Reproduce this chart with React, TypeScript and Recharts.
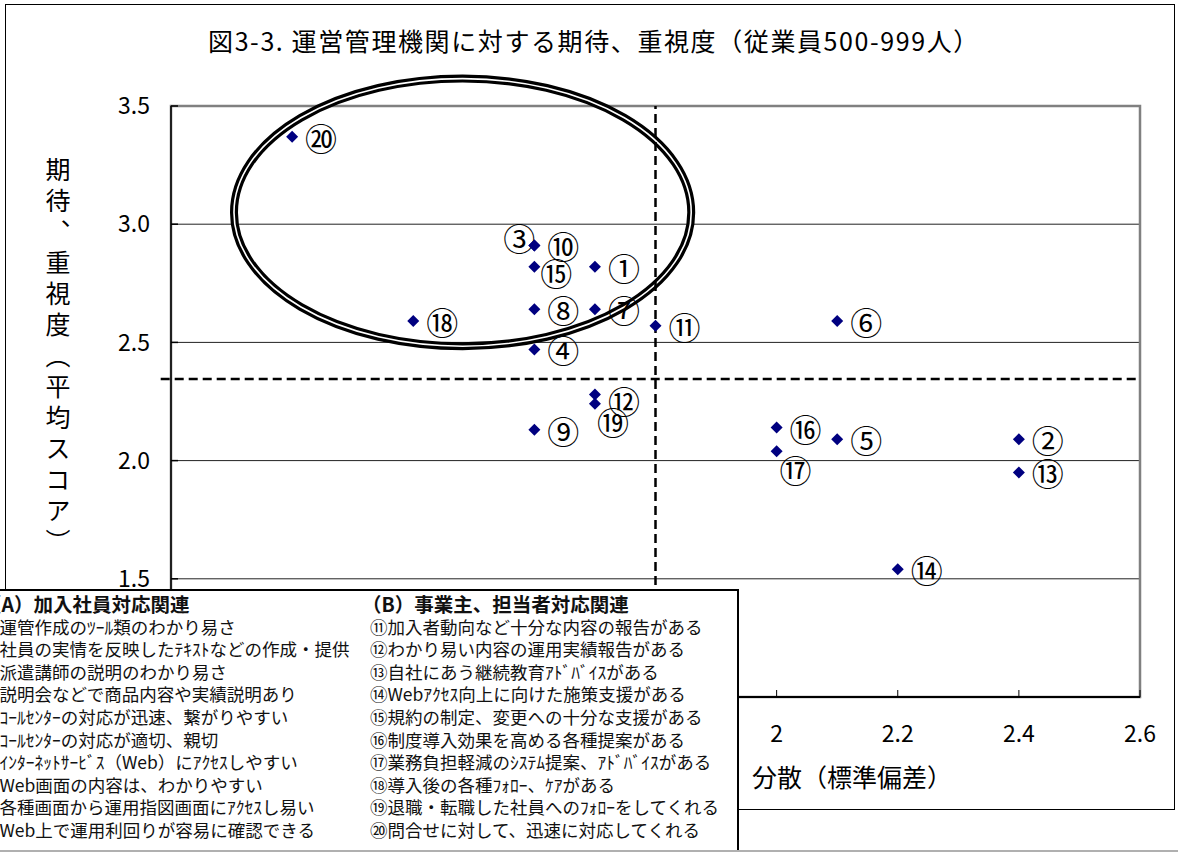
import React from 'react';
import {
  ScatterChart,
  Scatter,
  XAxis,
  YAxis,
  CartesianGrid,
  ReferenceLine,
  ReferenceArea,
} from 'recharts';

// Item numbers (see the legend list below)
const itemLabels = ['①', '②', '③', '④', '⑤', '⑥', '⑦', '⑧', '⑨', '⑩', '⑪', '⑫', '⑬', '⑭', '⑮', '⑯', '⑰', '⑱', '⑲', '⑳'];
// 分散（標準偏差）
const variance = [1.7, 2.4, 1.6, 1.6, 2.1, 2.1, 1.7, 1.6, 1.6, 1.6, 1.8, 1.7, 2.4, 2.2, 1.6, 2.0, 2.0, 1.4, 1.7, 1.2];
// 期待、重視度（平均スコア）
const expectation = [2.82, 2.09, 2.91, 2.47, 2.09, 2.59, 2.64, 2.64, 2.13, 2.91, 2.57, 2.28, 1.95, 1.54, 2.82, 2.14, 2.04, 2.59, 2.24, 3.37];

const xTicks = [1, 1.2, 1.4, 1.6, 1.8, 2, 2.2, 2.4, 2.6];
const yTicks = [1, 1.5, 2, 2.5, 3, 3.5];

// Average lines splitting the quadrants
const avgVariance = 1.8;
const avgExpectation = 2.345;

// Highlighted group, bounds in data units
const focusVariance = [1.104, 1.859];
const focusExpectation = [2.484, 3.616];

const titleText = '図3-3. 運営管理機関に対する期待、重視度（従業員500-999人）';
const yLabelText = '期待、重視度（平均スコア）';
const xLabelText = '分散（標準偏差）';

const groupATitle = '（A）加入社員対応関連';
const groupAItems = [
  '①運管作成のﾂｰﾙ類のわかり易さ',
  '②社員の実情を反映したﾃｷｽﾄなどの作成・提供',
  '③派遣講師の説明のわかり易さ',
  '④説明会などで商品内容や実績説明あり',
  '⑤ｺｰﾙｾﾝﾀｰの対応が迅速、繋がりやすい',
  '⑥ｺｰﾙｾﾝﾀｰの対応が適切、親切',
  '⑦ｲﾝﾀｰﾈｯﾄｻｰﾋﾞｽ（Web）にｱｸｾｽしやすい',
  '⑧Web画面の内容は、わかりやすい',
  '⑨各種画面から運用指図画面にｱｸｾｽし易い',
  '⑩Web上で運用利回りが容易に確認できる',
];
const groupBTitle = '（B）事業主、担当者対応関連';
const groupBItems = [
  '⑪加入者動向など十分な内容の報告がある',
  '⑫わかり易い内容の運用実績報告がある',
  '⑬自社にあう継続教育ｱﾄﾞﾊﾞｲｽがある',
  '⑭Webｱｸｾｽ向上に向けた施策支援がある',
  '⑮規約の制定、変更への十分な支援がある',
  '⑯制度導入効果を高める各種提案がある',
  '⑰業務負担軽減のｼｽﾃﾑ提案、ｱﾄﾞﾊﾞｲｽがある',
  '⑱導入後の各種ﾌｫﾛｰ、ｹｱがある',
  '⑲退職・転職した社員へのﾌｫﾛｰをしてくれる',
  '⑳問合せに対して、迅速に対応してくれる',
];

const points = itemLabels.map((name, i) => ({ name, x: variance[i], y: expectation[i] }));

const FONT = '"Noto Sans CJK JP", "Noto Sans", sans-serif';

// The item key box covers the lower-left corner of the axes,
// so tick labels underneath it are left blank.
const KEY_COVERS_X_BELOW = 2;
const KEY_COVERS_Y_AT_OR_BELOW = 1;

// Label placement next to each marker (pixels); most sit to the right
const labelNudge: Record<string, [number, number]> = {
  '③': [-15, -8],
  '⑮': [22, 5],
  '⑫': [29, 6],
  '⑲': [18, 17],
  '⑰': [19, 18],
};

const DiamondWithLabel = (props: any) => {
  const { cx, cy, payload } = props;
  if (cx == null || cy == null) return null;
  const r = 6;
  const [dx, dy] = labelNudge[payload.name] ?? [29, 0];
  return (
    <g>
      <path
        d={`M${cx},${cy - r}L${cx + r},${cy}L${cx},${cy + r}L${cx - r},${cy}Z`}
        fill="#000080"
      />
      <text
        x={cx + dx}
        y={cy + dy}
        textAnchor="middle"
        dominantBaseline="central"
        fontFamily={FONT}
        fontSize={32}
        fill="#000"
      >
        {payload.name}
      </text>
    </g>
  );
};

const DoubleEllipse = (props: any) => {
  const { x, y, width, height } = props;
  if (x == null || y == null) return null;
  const cx = x + width / 2;
  const cy = y + height / 2;
  return (
    <g>
      <ellipse cx={cx} cy={cy} rx={Math.abs(width) / 2} ry={Math.abs(height) / 2} fill="none" stroke="#000" strokeWidth={8} />
      <ellipse cx={cx} cy={cy} rx={Math.abs(width) / 2} ry={Math.abs(height) / 2} fill="none" stroke="#fff" strokeWidth={1.6} />
    </g>
  );
};

const listLine: React.CSSProperties = {
  height: 22.6,
  lineHeight: '22.6px',
  whiteSpace: 'nowrap',
};

export default function App() {
  return (
    <div style={{ position: 'absolute', left: 0, top: 0, width: 1178, height: 853, overflow: 'hidden', background: '#fff' }}>
      <ScatterChart
        width={1178}
        height={853}
        margin={{ top: 106, right: 38, bottom: 116, left: 111 }}
      >
        <CartesianGrid vertical={false} stroke="#222" strokeWidth={1} />
        <ReferenceArea
          x1={1}
          x2={2.6}
          y1={1}
          y2={3.5}
          fill="none"
          stroke="#808080"
          strokeWidth={2.5}
          ifOverflow="visible"
        />
        <XAxis
          type="number"
          dataKey="x"
          domain={[1, 2.6]}
          ticks={xTicks}
          interval={0}
          height={40}
          tickSize={-7}
          tickMargin={36}
          tickFormatter={(v: number) => (v < KEY_COVERS_X_BELOW ? '' : String(v))}
          tick={{ fontFamily: FONT, fontSize: 23, fill: '#000' }}
          stroke="#000"
          axisLine={{ stroke: '#000', strokeWidth: 2 }}
          tickLine={{ stroke: '#000', strokeWidth: 1 }}
          allowDataOverflow
        />
        <YAxis
          type="number"
          dataKey="y"
          domain={[1, 3.5]}
          ticks={yTicks}
          interval={0}
          width={60}
          tickSize={-7}
          tickMargin={28}
          tickFormatter={(v: number) => (v <= KEY_COVERS_Y_AT_OR_BELOW ? '' : v.toFixed(1))}
          tick={{ fontFamily: FONT, fontSize: 23, fill: '#000' }}
          stroke="#000"
          axisLine={{ stroke: '#000', strokeWidth: 1.5 }}
          tickLine={{ stroke: '#000', strokeWidth: 1.5 }}
          allowDataOverflow
        />
        <ReferenceArea
          x1={focusVariance[0]}
          x2={focusVariance[1]}
          y1={focusExpectation[0]}
          y2={focusExpectation[1]}
          ifOverflow="visible"
          shape={<DoubleEllipse />}
        />
        <ReferenceLine
          x={avgVariance}
          stroke="#000"
          strokeWidth={2.5}
          strokeDasharray="9 5"
        />
        <ReferenceLine
          segment={[
            { x: 0.983, y: avgExpectation },
            { x: 2.6, y: avgExpectation },
          ]}
          ifOverflow="visible"
          stroke="#000"
          strokeWidth={2.5}
          strokeDasharray="9 5"
        />
        <Scatter data={points} shape={<DiamondWithLabel />} isAnimationActive={false} />
      </ScatterChart>

      {/* outer frame */}
      <div style={{ position: 'absolute', left: 5, top: 4, width: 1168, height: 804, border: '1.5px solid #000', pointerEvents: 'none' }} />

      {/* title */}
      <div style={{ position: 'absolute', left: 5, top: 24, width: 1178, textAlign: 'center', fontFamily: FONT, fontSize: 25, lineHeight: '32px', letterSpacing: 1.6, color: '#000', whiteSpace: 'nowrap' }}>
        {titleText}
      </div>

      {/* y-axis title */}
      <div style={{ position: 'absolute', left: 45, top: 157, fontFamily: FONT, fontSize: 25, lineHeight: '26px', letterSpacing: 6, writingMode: 'vertical-rl', color: '#000' }}>
        {yLabelText}
      </div>

      {/* x-axis title */}
      <div style={{ position: 'absolute', left: 752, top: 760, fontFamily: FONT, fontSize: 25, lineHeight: '32px', letterSpacing: 0, color: '#000', whiteSpace: 'nowrap' }}>
        {xLabelText}
      </div>

      {/* item key */}
      <div style={{ position: 'absolute', left: -12, top: 589, width: 749, height: 261, borderTop: '2px solid #000', borderRight: '2px solid #000', background: '#fff', fontFamily: FONT, color: '#111', overflow: 'hidden' }}>
        <div style={{ position: 'absolute', left: -6, top: 2 }}>
          <div style={{ ...listLine, fontSize: 19.5, fontWeight: 700 }}>{groupATitle}</div>
          {groupAItems.map((t) => (
            <div key={t} style={{ ...listLine, fontSize: 17.5 }}>{t}</div>
          ))}
        </div>
        <div style={{ position: 'absolute', left: 374, top: 2 }}>
          <div style={{ ...listLine, fontSize: 19.5, fontWeight: 700 }}>{groupBTitle}</div>
          {groupBItems.map((t) => (
            <div key={t} style={{ ...listLine, fontSize: 17.5, paddingLeft: 8 }}>{t}</div>
          ))}
        </div>
      </div>

      {/* bottom rule */}
      <div style={{ position: 'absolute', left: 0, top: 850, width: 1178, height: 0, borderTop: '2px solid #b0b0b0' }} />
    </div>
  );
}
